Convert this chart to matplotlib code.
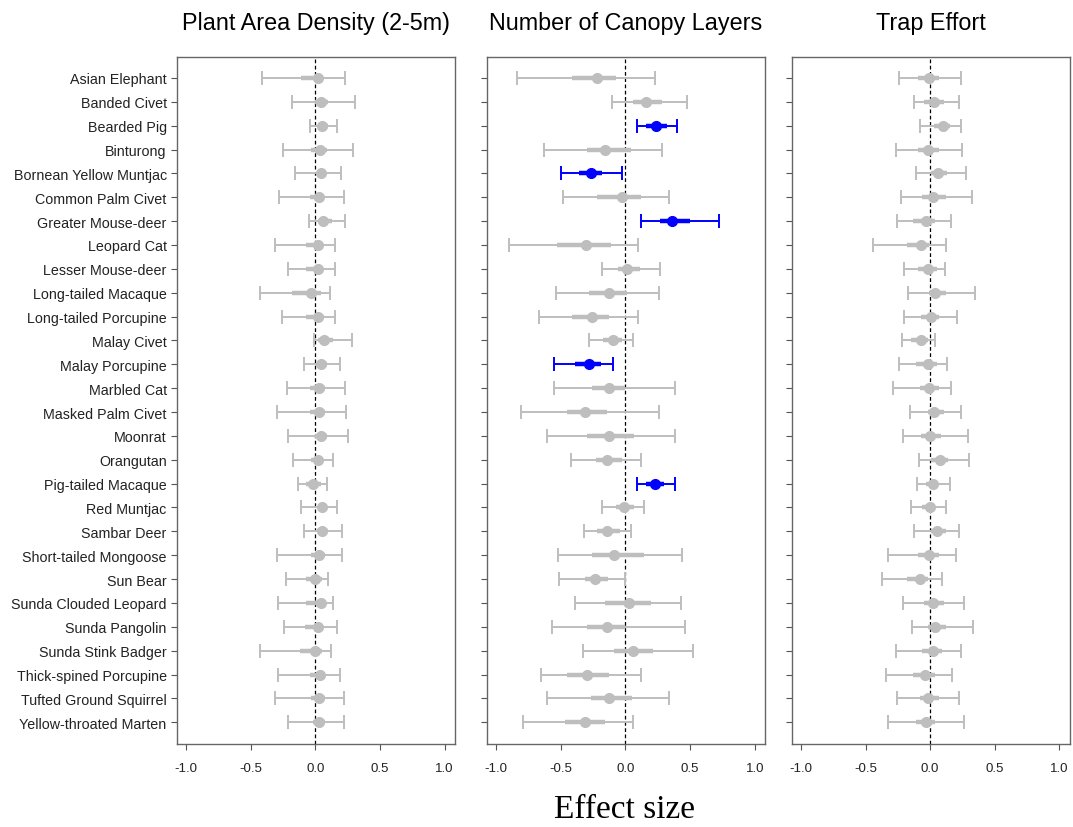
import numpy as np
import matplotlib
matplotlib.use('Agg')
import matplotlib.pyplot as plt

species = ['Asian Elephant', 'Banded Civet', 'Bearded Pig', 'Binturong',
           'Bornean Yellow Muntjac', 'Common Palm Civet', 'Greater Mouse-deer',
           'Leopard Cat', 'Lesser Mouse-deer', 'Long-tailed Macaque',
           'Long-tailed Porcupine', 'Malay Civet', 'Malay Porcupine', 'Marbled Cat',
           'Masked Palm Civet', 'Moonrat', 'Orangutan', 'Pig-tailed Macaque',
           'Red Muntjac', 'Sambar Deer', 'Short-tailed Mongoose', 'Sun Bear',
           'Sunda Clouded Leopard', 'Sunda Pangolin', 'Sunda Stink Badger',
           'Thick-spined Porcupine', 'Tufted Ground Squirrel', 'Yellow-throated Marten']

titles = ['Plant Area Density (2-5m)', 'Number of Canopy Layers', 'Trap Effort']

# plant area density
pad_est = [0.02, 0.04, 0.055, 0.035, 0.04, 0.03, 0.06, 0.02, 0.02, -0.03, 0.02, 0.07, 0.045, 0.03,
           0.03, 0.04, 0.02, -0.02, 0.055, 0.05, 0.03, 0.0, 0.04, 0.02, 0.0, 0.035, 0.03, 0.03]
pad_lo = [-0.41, -0.18, -0.04, -0.25, -0.16, -0.28, -0.05, -0.31, -0.21, -0.43, -0.26, -0.01, -0.09, -0.22,
          -0.30, -0.21, -0.17, -0.135, -0.11, -0.09, -0.30, -0.23, -0.29, -0.24, -0.43, -0.29, -0.315, -0.21]
pad_hi = [0.23, 0.31, 0.17, 0.29, 0.20, 0.22, 0.23, 0.15, 0.15, 0.11, 0.15, 0.28, 0.19, 0.23,
          0.235, 0.25, 0.14, 0.09, 0.165, 0.21, 0.21, 0.10, 0.14, 0.17, 0.12, 0.19, 0.22, 0.22]
pad_ilo = [-0.11, 0.0, 0.02, -0.03, 0.01, -0.04, 0.02, -0.07, -0.07, -0.18, -0.07, 0.02, 0.01, -0.04,
           -0.04, 0.0, -0.03, -0.07, 0.02, 0.01, -0.03, -0.07, -0.07, -0.08, -0.12, -0.04, -0.03, -0.015]
pad_ihi = [0.06, 0.10, 0.10, 0.09, 0.075, 0.06, 0.13, 0.06, 0.05, 0.04, 0.07, 0.14, 0.09, 0.075,
           0.075, 0.09, 0.06, 0.04, 0.09, 0.10, 0.075, 0.05, 0.06, 0.06, 0.05, 0.075, 0.075, 0.075]

# number of canopy layers
ncl_est = [-0.22, 0.16, 0.24, -0.16, -0.27, -0.03, 0.36, -0.305, 0.015, -0.125, -0.26, -0.10, -0.28, -0.125,
           -0.31, -0.125, -0.14, 0.23, -0.01, -0.14, -0.085, -0.235, 0.025, -0.14, 0.06, -0.30, -0.125, -0.31]
ncl_lo = [-0.84, -0.105, 0.087, -0.63, -0.50, -0.485, 0.12, -0.90, -0.18, -0.535, -0.67, -0.28, -0.55, -0.55,
          -0.805, -0.61, -0.42, 0.09, -0.18, -0.32, -0.525, -0.515, -0.39, -0.565, -0.33, -0.655, -0.605, -0.79]
ncl_hi = [0.23, 0.48, 0.40, 0.28, -0.03, 0.34, 0.72, 0.10, 0.27, 0.26, 0.10, 0.06, -0.10, 0.38,
          0.26, 0.38, 0.12, 0.38, 0.14, 0.04, 0.44, 0.0, 0.43, 0.46, 0.52, 0.12, 0.34, 0.06]
ncl_ilo = [-0.41, 0.06, 0.16, -0.30, -0.36, -0.22, 0.27, -0.53, -0.06, -0.28, -0.41, -0.17, -0.39, -0.26,
           -0.45, -0.30, -0.23, 0.16, -0.07, -0.22, -0.26, -0.315, -0.16, -0.30, -0.085, -0.45, -0.27, -0.47]
ncl_ihi = [-0.07, 0.28, 0.32, 0.04, -0.18, 0.12, 0.50, -0.11, 0.11, 0.01, -0.125, -0.03, -0.19, 0.0,
           -0.14, 0.07, -0.03, 0.30, 0.07, -0.04, 0.14, -0.135, 0.195, 0.0, 0.215, -0.125, 0.05, -0.16]

# trap effort
te_est = [-0.01, 0.03, 0.10, -0.02, 0.06, 0.02, -0.03, -0.07, -0.015, 0.04, 0.005, -0.07, -0.02, -0.01,
          0.03, 0.0, 0.075, 0.02, 0.0, 0.055, -0.01, -0.08, 0.02, 0.035, 0.02, -0.04, -0.02, -0.03]
te_lo = [-0.24, -0.125, -0.075, -0.265, -0.11, -0.225, -0.26, -0.44, -0.20, -0.175, -0.20, -0.22, -0.245, -0.29,
         -0.155, -0.21, -0.09, -0.105, -0.15, -0.125, -0.325, -0.37, -0.21, -0.14, -0.265, -0.34, -0.255, -0.325]
te_hi = [0.24, 0.22, 0.235, 0.25, 0.28, 0.32, 0.16, 0.12, 0.115, 0.35, 0.21, 0.04, 0.13, 0.16,
         0.235, 0.29, 0.30, 0.15, 0.125, 0.225, 0.20, 0.09, 0.26, 0.335, 0.24, 0.17, 0.225, 0.26]
te_ilo = [-0.095, -0.045, 0.03, -0.095, 0.005, -0.06, -0.13, -0.18, -0.095, -0.01, -0.07, -0.145, -0.11, -0.08,
          -0.02, -0.07, 0.005, -0.03, -0.06, 0.005, -0.095, -0.18, -0.045, -0.02, -0.06, -0.13, -0.08, -0.11]
te_ihi = [0.07, 0.105, 0.155, 0.07, 0.13, 0.12, 0.04, -0.01, 0.055, 0.12, 0.07, -0.02, 0.055, 0.07,
          0.105, 0.08, 0.14, 0.055, 0.04, 0.12, 0.07, -0.02, 0.105, 0.125, 0.09, 0.04, 0.07, 0.04]

panels = [(pad_est, pad_lo, pad_hi, pad_ilo, pad_ihi),
          (ncl_est, ncl_lo, ncl_hi, ncl_ilo, ncl_ihi),
          (te_est, te_lo, te_hi, te_ilo, te_ihi)]

xticks = [-1.0, -0.5, 0.0, 0.5, 1.0]
xticklabels = ['-1.0', '-0.5', '0.0', '0.5', '1.0']

plt.rcParams['font.family'] = ['Liberation Sans', 'DejaVu Sans']

fig = plt.figure(figsize=(10.73, 8.28), dpi=100)
lefts = [0.165, 0.454, 0.738]
n = len(species)
ypos = np.arange(n, 0, -1)

for p, (est, lo, hi, ilo, ihi) in enumerate(panels):
    ax = fig.add_axes([lefts[p], 0.100, 0.259, 0.830])
    est, lo, hi = np.array(est), np.array(lo), np.array(hi)
    ilo, ihi = np.array(ilo), np.array(ihi)
    ax.axvline(0, color='black', ls=(0, (3, 2)), lw=0.9, zorder=1)
    for i in range(n):
        sig = lo[i] > 0 or hi[i] < 0
        col = '#0000ff' if sig else '#bebebe'
        ax.errorbar(est[i], ypos[i], xerr=[[est[i] - lo[i]], [hi[i] - est[i]]],
                    fmt='none', ecolor=col, elinewidth=1.4, capsize=5,
                    capthick=1.4, zorder=2)
        ax.plot([ilo[i], ihi[i]], [ypos[i], ypos[i]], color=col, lw=3.2,
                solid_capstyle='butt', zorder=3)
        ax.plot(est[i], ypos[i], 'o', color=col, ms=7, zorder=4)
    ax.set_xlim(-1.07, 1.08)
    ax.set_ylim(0.08, n + 0.88)
    ax.set_xticks(xticks)
    ax.set_xticklabels(xticklabels)
    ax.set_yticks(ypos)
    if p == 0:
        ax.set_yticklabels(species, fontsize=10.3)
    else:
        ax.set_yticklabels([])
    ax.tick_params(axis='both', direction='out', length=4, color='#555555',
                   labelcolor='#222222')
    ax.tick_params(axis='x', pad=9, labelsize=9.5)
    for s in ax.spines.values():
        s.set_color('#666666')
        s.set_linewidth(1.0)
    ax.set_title(titles[p], fontsize=16.8, pad=20)

fig.text(0.582, 0.004, 'Effect size', ha='center', va='bottom',
         fontsize=24, family=['Liberation Serif', 'DejaVu Serif'])

fig.savefig('out.png', dpi=100, facecolor='white')
